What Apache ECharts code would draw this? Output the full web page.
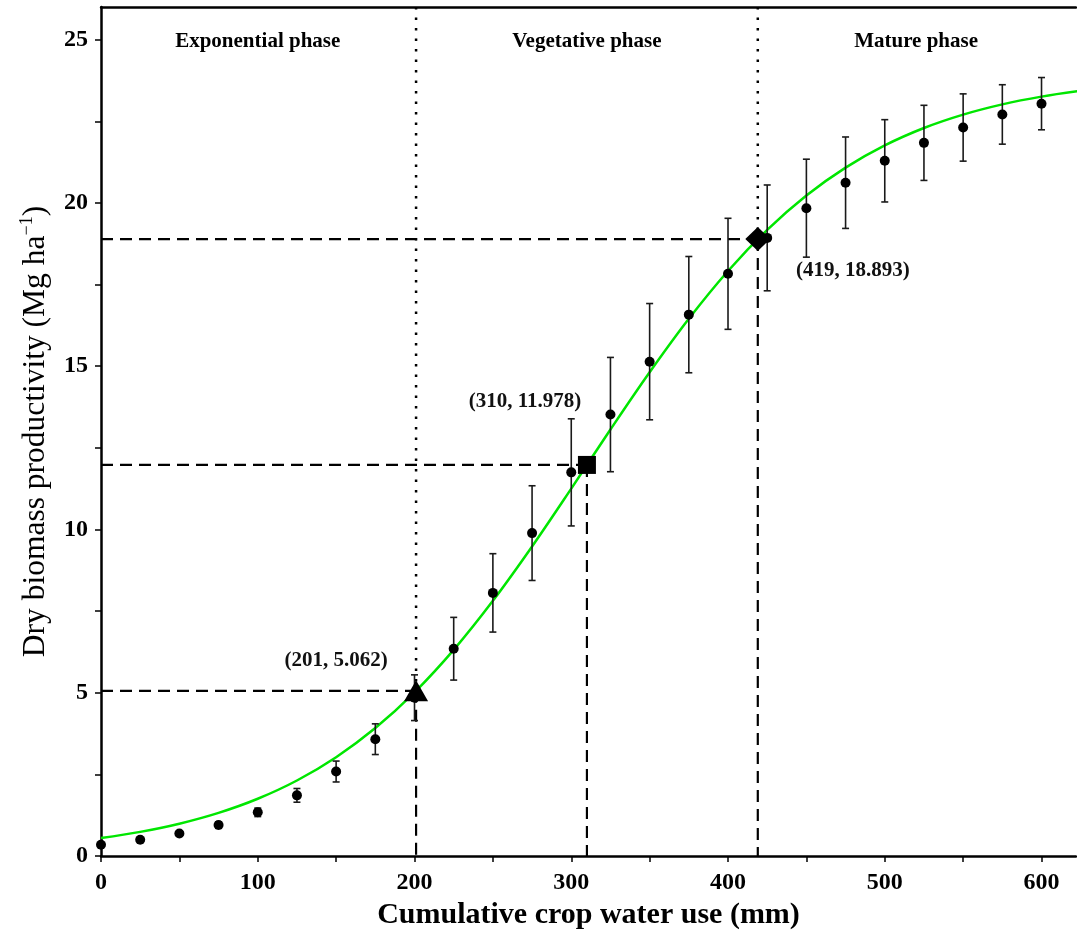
<!DOCTYPE html>
<html>
<head>
<meta charset="utf-8">
<script src="https://cdn.jsdelivr.net/npm/echarts@6/dist/echarts.min.js"></script>
<style>
  html, body { margin: 0; padding: 0; background: #ffffff; }
  #chart { width: 1077px; height: 935px; }
</style>
</head>
<body>
<div id="chart"></div>
<script>
// Measured dry biomass (mean ± SD) against cumulative crop water use
const waterUse = [0, 25, 50, 75, 100, 125, 150, 175, 200, 225, 250, 275, 300,
                  325, 350, 375, 400, 425, 450, 475, 500, 525, 550, 575, 600];
const biomassMean = [0.35, 0.50, 0.69, 0.95, 1.34, 1.86, 2.59, 3.58, 4.85, 6.35, 8.06, 9.89, 11.75,
                     13.52, 15.14, 16.58, 17.83, 18.93, 19.84, 20.62, 21.29, 21.84, 22.31, 22.71, 23.04];
const biomassSd = [0.05, 0.05, 0.07, 0.10, 0.13, 0.21, 0.32, 0.47, 0.70, 0.96, 1.20, 1.45, 1.64,
                   1.75, 1.78, 1.78, 1.70, 1.62, 1.50, 1.40, 1.26, 1.15, 1.03, 0.91, 0.80];

// Fitted logistic growth curve
const fitWaterUse = [0, 25, 50, 75, 100, 125, 150, 175, 200, 225, 250, 275, 300,
                     325, 350, 375, 400, 425, 450, 475, 500, 525, 550, 575, 600, 625];
const fitBiomass = [0.553, 0.742, 0.993, 1.324, 1.756, 2.315, 3.029, 3.921, 5.015, 6.316, 7.816, 9.480, 11.252,
                    13.062, 14.815, 16.453, 17.917, 19.175, 20.228, 21.082, 21.762, 22.295, 22.705, 23.019, 23.256, 23.434];

// Key points of the curve and growth phases
const keyWaterUse = [201, 310, 419];
const keyBiomass = [5.062, 11.978, 18.893];
const keySymbols = ['triangle', 'rect', 'diamond'];
const phaseBounds = [201, 419];
const phaseNames = ['Exponential phase', 'Vegetative phase', 'Mature phase'];
const phaseCenters = [100, 310, 520];

// Axis ticks and labels
const xTickValues = [0, 50, 100, 150, 200, 250, 300, 350, 400, 450, 500, 550, 600];
const xLabelValues = [0, 100, 200, 300, 400, 500, 600];
const yTickValues = [0, 2.5, 5, 7.5, 10, 12.5, 15, 17.5, 20, 22.5, 25];
const yLabelValues = [0, 5, 10, 15, 20, 25];

const X_MAX = 622;
const Y_MAX = 26;
const SERIF = '"Liberation Serif", "Times New Roman", serif';

const chart = echarts.init(document.getElementById('chart'), null, { renderer: 'canvas' });

const series = [];

// Dashed guide lines from each key point to both axes
keyWaterUse.forEach((x, i) => {
  const y = keyBiomass[i];
  series.push({
    type: 'line', data: [[0, y], [x, y]], symbol: 'none', silent: true, z: 2,
    lineStyle: { color: '#000', width: 2.2, type: [12, 7] }
  });
  series.push({
    type: 'line', data: [[x, y], [x, 0]], symbol: 'none', silent: true, z: 2,
    lineStyle: { color: '#000', width: 2.2, type: [12, 7] }
  });
});

// Dotted phase boundaries from the top of the plot to the key points
phaseBounds.forEach((x) => {
  const y = keyBiomass[keyWaterUse.indexOf(x)];
  series.push({
    type: 'line', data: [[x, Y_MAX], [x, y]], symbol: 'none', silent: true, z: 2,
    lineStyle: { color: '#000', width: 2.5, type: [2.5, 8], cap: 'butt' }
  });
});

// Fitted curve
series.push({
  type: 'line',
  data: fitWaterUse.map((x, i) => [x, fitBiomass[i]]),
  smooth: 0.35,
  symbol: 'none',
  z: 3,
  lineStyle: { color: '#00e600', width: 2.5 }
});

// Error bars
series.push({
  type: 'custom',
  z: 4,
  data: waterUse.map((x, i) => [x, biomassMean[i] - biomassSd[i], biomassMean[i] + biomassSd[i]]),
  renderItem: (params, api) => {
    const lo = api.coord([api.value(0), api.value(1)]);
    const hi = api.coord([api.value(0), api.value(2)]);
    const cap = 3.5;
    const style = { stroke: '#1a1a1a', lineWidth: 1.6 };
    return {
      type: 'group',
      children: [
        { type: 'line', shape: { x1: lo[0], y1: lo[1], x2: hi[0], y2: hi[1] }, style },
        { type: 'line', shape: { x1: lo[0] - cap, y1: lo[1], x2: lo[0] + cap, y2: lo[1] }, style },
        { type: 'line', shape: { x1: hi[0] - cap, y1: hi[1], x2: hi[0] + cap, y2: hi[1] }, style }
      ]
    };
  }
});

// Mean values
series.push({
  type: 'scatter',
  z: 5,
  data: waterUse.map((x, i) => [x, biomassMean[i]]),
  symbol: 'circle',
  symbolSize: 10,
  itemStyle: { color: '#000', opacity: 1 }
});

// Key points with coordinate labels
const keyLabelOffsets = [[-80, -30], [-62, -63], [95, 31]];
const keySizes = [[24, 21], 18, [25, 24]];
series.push({
  type: 'scatter',
  z: 6,
  data: keyWaterUse.map((x, i) => ({
    value: [x, keyBiomass[i]],
    symbol: keySymbols[i],
    symbolSize: keySizes[i],
    label: {
      show: true,
      position: 'inside',
      offset: keyLabelOffsets[i],
      formatter: '(' + x + ', ' + keyBiomass[i].toFixed(3) + ')',
      fontFamily: SERIF, fontWeight: 'bold', fontSize: 21, color: '#111'
    }
  })),
  itemStyle: { color: '#000', opacity: 1 }
});

// Phase names along the top
series.push({
  type: 'scatter',
  z: 6,
  symbolSize: 0,
  silent: true,
  data: phaseNames.map((name, i) => ({ value: [phaseCenters[i], 24.93], name })),
  itemStyle: { opacity: 1 },
  label: {
    show: true,
    position: 'inside',
    formatter: (p) => p.name,
    fontFamily: SERIF, fontWeight: 'bold', fontSize: 21, color: '#000'
  }
});

const option = {
  animation: false,
  backgroundColor: '#ffffff',
  grid: { left: 101, right: 1, top: 7, bottom: 76, containLabel: false },
  xAxis: [
    {
      type: 'value', min: 0, max: X_MAX,
      axisLine: { show: true, onZero: false, lineStyle: { color: '#000', width: 2.5 } },
      axisTick: { show: true, length: 6, customValues: xTickValues, lineStyle: { color: '#000', width: 1.5 } },
      axisLabel: {
        customValues: xLabelValues, margin: 15,
        fontFamily: SERIF, fontWeight: 'bold', fontSize: 24, color: '#000'
      },
      splitLine: { show: false },
      name: 'Cumulative crop water use (mm)',
      nameLocation: 'middle', nameGap: 39,
      nameTextStyle: { fontFamily: SERIF, fontWeight: 'bold', fontSize: 30, color: '#000' }
    },
    {
      type: 'value', position: 'top', min: 0, max: X_MAX,
      axisLine: { show: true, onZero: false, lineStyle: { color: '#000', width: 2.5 } },
      axisTick: { show: false }, axisLabel: { show: false }, splitLine: { show: false }
    }
  ],
  yAxis: {
    type: 'value', min: 0, max: Y_MAX,
    axisLine: { show: true, onZero: false, lineStyle: { color: '#000', width: 2.5 } },
    axisTick: { show: true, length: 6, customValues: yTickValues, lineStyle: { color: '#000', width: 1.5 } },
    axisLabel: {
      customValues: yLabelValues, margin: 13,
      fontFamily: SERIF, fontWeight: 'bold', fontSize: 24, color: '#000'
    },
    splitLine: { show: false },
    name: '{m|Dry biomass productivity (Mg ha}{s|−1}{m|)}',
    nameLocation: 'middle', nameGap: 47,
    nameTextStyle: {
      rich: {
        m: { fontFamily: SERIF, fontSize: 31.5, color: '#000', lineHeight: 36 },
        s: { fontFamily: SERIF, fontSize: 18, color: '#000', lineHeight: 18, verticalAlign: 'top' }
      }
    }
  },
  series
};

chart.setOption(option);
</script>
</body>
</html>
